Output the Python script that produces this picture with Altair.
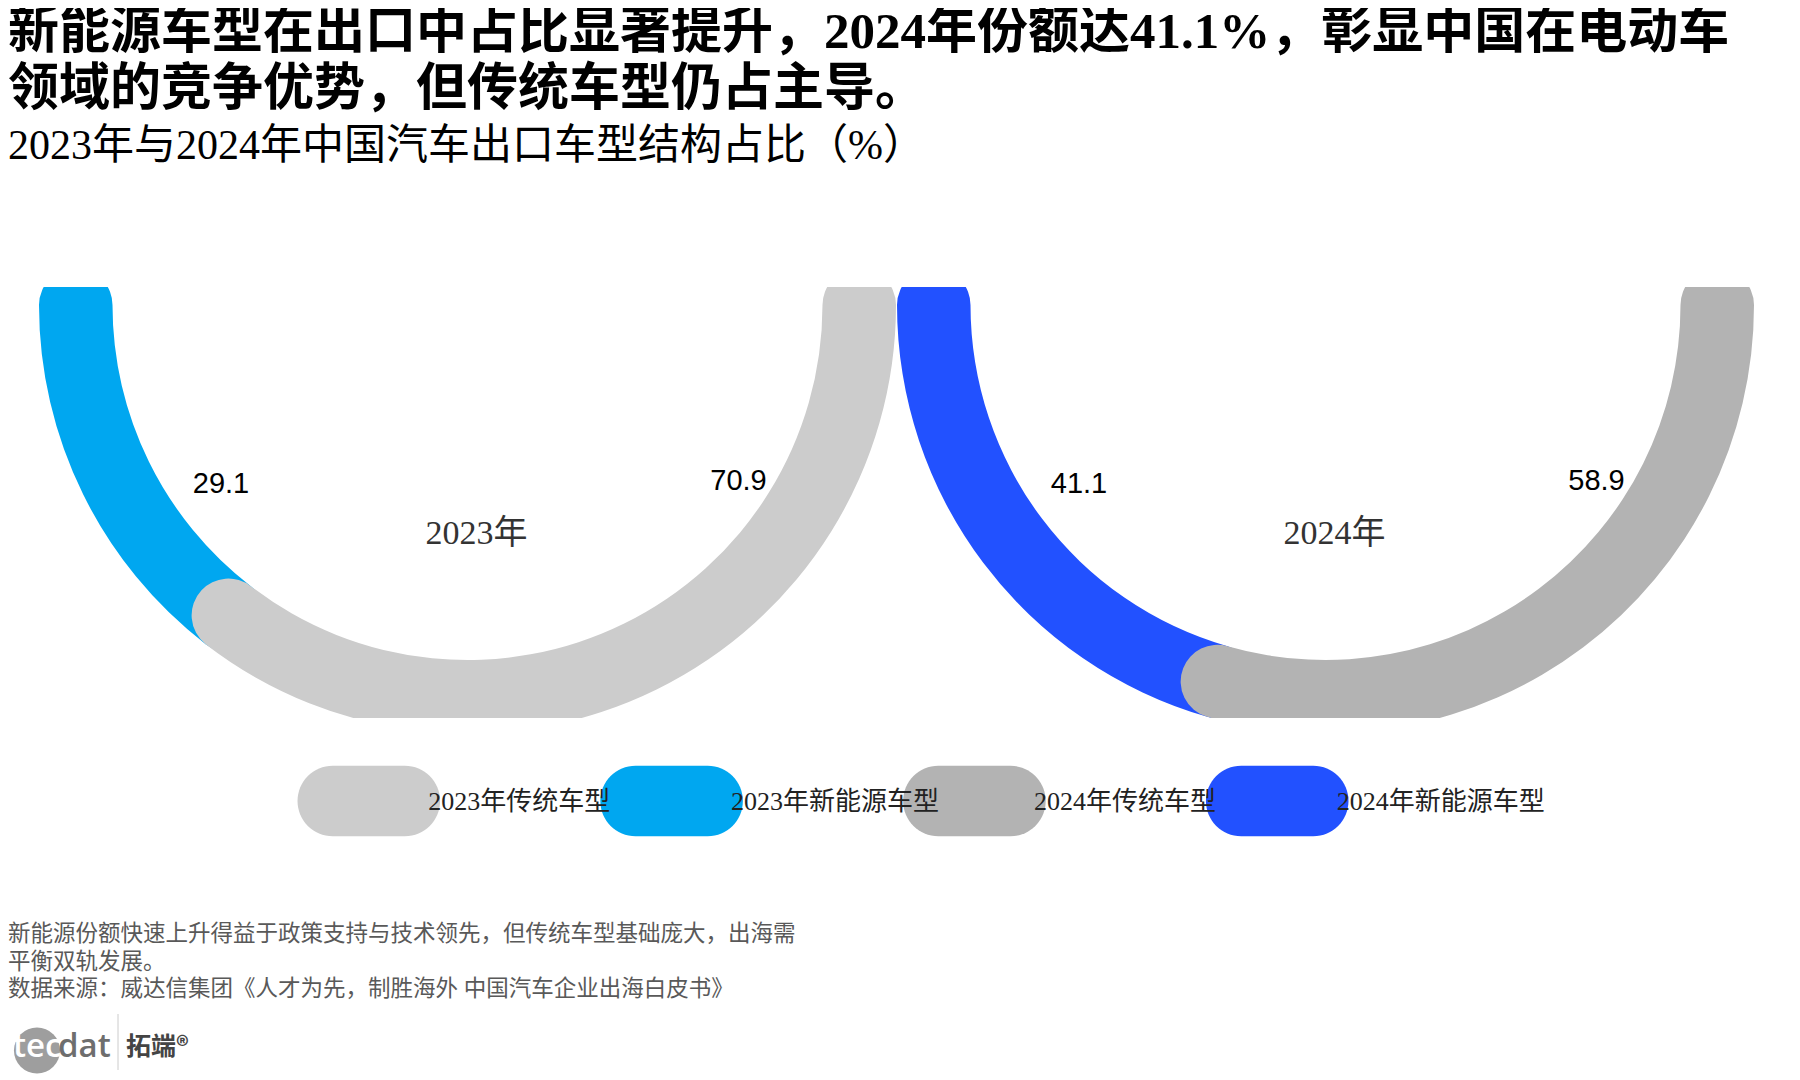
import math
import altair as alt

# ---------------- data ----------------
years = ["2023", "2024"]
nev_share = [29.1, 41.1]      # 新能源车型占比 (%)
trad_share = [70.9, 58.9]     # 传统车型占比 (%)
type_nev = "新能源车型"
type_trad = "传统车型"

legend_order = ["2023年传统车型", "2023年新能源车型", "2024年传统车型", "2024年新能源车型"]
legend_colors = ["#CCCCCC", "#00A7F0", "#B3B3B3", "#2251FF"]

title_lines = [
    "新能源车型在出口中占比显著提升，2024年份额达41.1%，彰显中国在电动车",
    "领域的竞争优势，但传统车型仍占主导。",
]
subtitle_text = "2023年与2024年中国汽车出口车型结构占比（%）"
note_lines = [
    "新能源份额快速上升得益于政策支持与技术领先，但传统车型基础庞大，出海需",
    "平衡双轨发展。",
    "数据来源：威达信集团《人才为先，制胜海外 中国汽车企业出海白皮书》",
]
logo_words = ["tec", "dat", "拓端®"]

# tables built from the arrays above
rows = []
for yr, n, t in zip(years, nev_share, trad_share):
    rows.append({"year": yr, "type": type_nev, "value": n, "start": 0.0, "end": n})
    rows.append({"year": yr, "type": type_trad, "value": t, "start": n, "end": n + t})
src = alt.Data(values=rows)
legend_src = alt.Data(values=[{"series": s} for s in legend_order])

# ---------------- style ----------------
SERIF = "Liberation Serif, Noto Sans CJK SC"
SANS = "Liberation Sans, Arial, sans-serif"
LOGO_FONT = "Open Sans, Liberation Sans"
W, H = 1784, 431
CENTERS = [459.5, 1317.5]
CY = 18
R_OUT, R_IN = 428.5, 355
CAP = (R_OUT - R_IN) / 2
CAP_EXT = math.asin(CAP / ((R_OUT + R_IN) / 2)) / math.pi * 100  # cap length in % units
PILL = "M-0.5,-0.49L0.5,-0.49A0.49,0.49 0 0 1 0.5,0.49L-0.5,0.49A0.49,0.49 0 0 1 -0.5,-0.49Z"
LEGEND_RANGE = [360.8, 1269.2]
LEGEND_Y = 514

color_scale = alt.Scale(domain=legend_order, range=legend_colors)
xenc = alt.X("year:N", scale=alt.Scale(type="point", domain=years, range=CENTERS, padding=0), axis=None)
lx = alt.X("series:N", scale=alt.Scale(type="point", domain=legend_order, range=LEGEND_RANGE, padding=0), axis=None)

arcs = alt.Chart(src).transform_calculate(
    series="datum.year + '年' + datum.type",
    s=f"datum.start - {CAP_EXT}",
    e=f"datum.end + {CAP_EXT}",
).mark_arc(radius=R_OUT, radius2=R_IN, cornerRadius=CAP, clip=True).encode(
    x=xenc,
    y=alt.value(CY),
    theta=alt.Theta("s:Q", scale=alt.Scale(domain=[0, 100], range=[3 * math.pi / 2, math.pi / 2])),
    theta2="e:Q",
    color=alt.Color("series:N", scale=color_scale, legend=None),
)

nev_lbl = alt.Chart(src).transform_filter(alt.datum.type == type_nev).mark_text(
    dx=-246.5, dy=178.5, font=SANS, fontSize=29, color="#000000", baseline="middle"
).encode(x=xenc, y=alt.value(CY), text=alt.Text("value:Q", format=".1f"))

trad_lbl = alt.Chart(src).transform_filter(alt.datum.type == type_trad).mark_text(
    dx=271, dy=176.3, font=SANS, fontSize=29, color="#000000", baseline="middle"
).encode(x=xenc, y=alt.value(CY), text=alt.Text("value:Q", format=".1f"))

year_lbl = alt.Chart(src).transform_filter(alt.datum.type == type_nev).transform_calculate(
    ylabel="datum.year + '年'"
).mark_text(dx=9, font=SERIF, fontSize=34, color="#333333", baseline="middle").encode(
    x=xenc, y=alt.value(247), text="ylabel:N"
)

# legend (pill swatches + labels)
legend_pills = alt.Chart(legend_src).mark_point(
    shape=PILL, size=20736, filled=True, opacity=1, strokeWidth=0
).encode(x=lx, y=alt.value(LEGEND_Y), color=alt.Color("series:N", scale=color_scale, legend=None))

legend_labels = alt.Chart(legend_src).mark_text(
    align="left", baseline="middle", dx=59.5, font=SERIF, fontSize=26, color="#222222"
).encode(x=lx, y=alt.value(LEGEND_Y + 0.7), text="series:N")

notes = alt.Chart(alt.Data(values=[{"note": note_lines}])).mark_text(
    align="left", baseline="alphabetic", font=SERIF, fontSize=22.5, lineHeight=27.5, color="#595959"
).encode(x=alt.value(0), y=alt.value(654), text="note:N")

logo_circle = alt.Chart(alt.Data(values=[{"k": 1}])).mark_circle(
    size=2124, color="#9E9E9E", opacity=1
).encode(x=alt.value(29), y=alt.value(763.5))

logo_tec = alt.Chart(alt.Data(values=[{"t": logo_words[0]}])).mark_text(
    align="left", baseline="alphabetic", font=LOGO_FONT, fontWeight=600,
    fontSize=33, color="#FFFFFF"
).encode(x=alt.value(5), y=alt.value(770), text="t:N")

logo_dat = alt.Chart(alt.Data(values=[{"t": logo_words[1]}])).mark_text(
    align="left", baseline="alphabetic", font=LOGO_FONT, fontWeight=600,
    fontSize=33, color="#6E6E6E"
).encode(x=alt.value(50), y=alt.value(770), text="t:N")

logo_rule = alt.Chart(alt.Data(values=[{"k": 1}])).mark_rule(color="#CCCCCC", strokeWidth=1).encode(
    x=alt.value(110), y=alt.value(727), y2=alt.value(783)
)

logo_cn = alt.Chart(alt.Data(values=[{"t": logo_words[2]}])).mark_text(
    align="left", baseline="middle", font="Noto Sans CJK SC", fontWeight="bold",
    fontSize=25, color="#444444"
).encode(x=alt.value(118), y=alt.value(760), text="t:N")

chart = alt.layer(
    arcs, nev_lbl, trad_lbl, year_lbl, legend_pills, legend_labels, notes,
    logo_circle, logo_tec, logo_dat, logo_rule, logo_cn
).resolve_scale(x="independent").properties(
    width=W,
    height=H,
    background="#FFFFFF",
    padding={"left": 0, "top": 279, "right": 0, "bottom": 1080 - 279 - H},
    autosize=alt.AutoSizeParams(type="none"),
    title=alt.TitleParams(
        text=title_lines, subtitle=subtitle_text, anchor="start", frame="group", baseline="top",
        font=SERIF, fontSize=51, fontWeight="bold", color="#000000", lineHeight=56.5, offset=119,
        subtitleFont=SERIF, subtitleFontSize=42, subtitleColor="#000000", subtitlePadding=10.3,
    ),
).configure_view(stroke="transparent", strokeWidth=0)

chart.save("out.html", embed_options={"renderer": "svg", "actions": False})
